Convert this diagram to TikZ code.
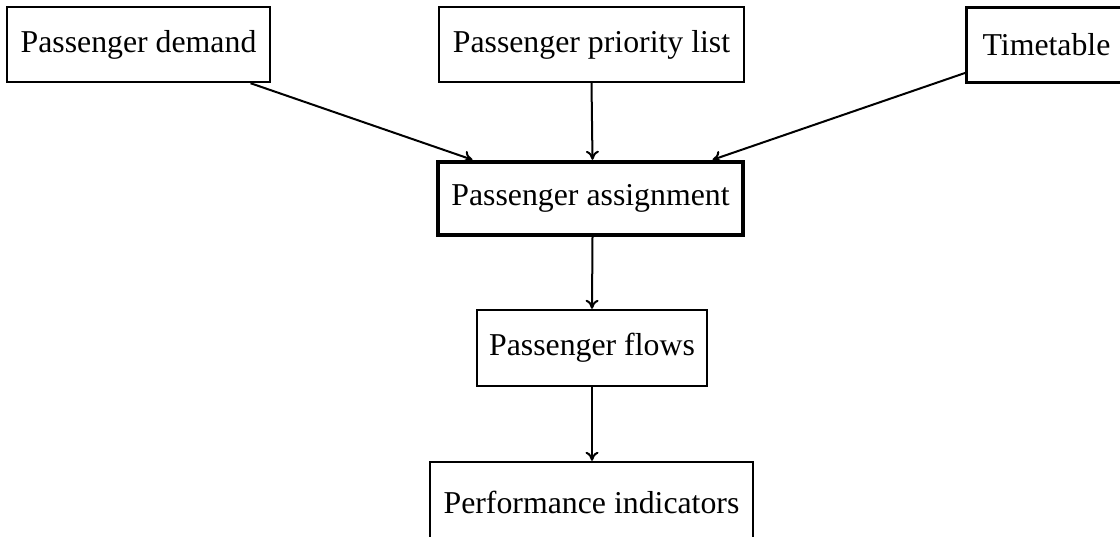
\documentclass[tikz,border=0pt]{standalone}
\usepackage{fontspec}
\setmainfont{Liberation Serif}
\usetikzlibrary{arrows.meta,calc}
\begin{document}
\begin{tikzpicture}[x=0.5pt,y=-0.5pt,
  box/.style={draw,line width=1.2pt,inner sep=0pt,
    font=\fontsize{15.9pt}{19pt}\selectfont},
  mainbox/.style={box,line width=2.2pt},
  link/.style={line width=1pt,-{To[length=4.5pt,width=6.5pt]}}]
\useasboundingbox (0,0) rectangle (1120,536);
\clip (0,0) rectangle (1120,536);
% input boxes
\node[box,minimum width=131.5pt,minimum height=37.5pt] (demand) at (138.5,44.5) {Passenger demand};
\node[box,minimum width=152.5pt,minimum height=37.5pt] (prio) at (591.5,44.5) {Passenger priority list};
\node[box,minimum width=80pt,minimum height=37.5pt] (tt) at (1046.5,45) {Timetable};
% assignment and outputs
\node[mainbox,minimum width=152.5pt,minimum height=36.5pt] (asg) at (590.5,198.5) {Passenger assignment};
\node[box,minimum width=115pt,minimum height=38pt] (flows) at (592,348) {Passenger flows};
\node[box,minimum width=161.5pt,minimum height=40pt] (perf) at (591.5,502) {Performance indicators};
% arrow targets on the assignment box
\coordinate (asgL) at ([xshift=-59pt]asg.north);
\coordinate (asgR) at ([xshift=61pt]asg.north);
\coordinate (asgM) at ([xshift=1pt]asg.north);
% connectors
\draw[link] (demand) -- (asgL);
\draw[link] (tt) -- (asgR);
\draw[link] (prio.south) -- (asgM);
\draw[link] ([xshift=1pt]asg.south) -- (flows.north);
\draw[link] (flows.south) -- ([xshift=0.25pt]perf.north);
\end{tikzpicture}
\end{document}
